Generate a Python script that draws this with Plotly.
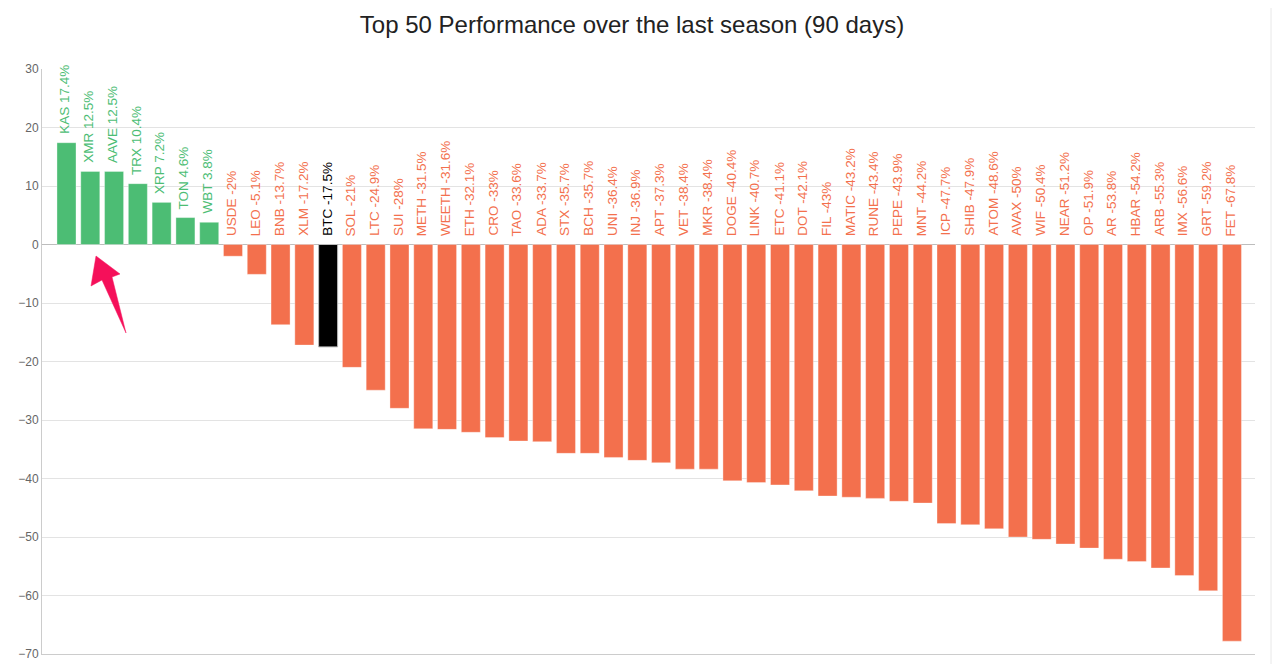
import plotly.graph_objects as go

names = ["KAS", "XMR", "AAVE", "TRX", "XRP", "TON", "WBT", "USDE", "LEO", "BNB",
         "XLM", "BTC", "SOL", "LTC", "SUI", "METH", "WEETH", "ETH", "CRO", "TAO",
         "ADA", "STX", "BCH", "UNI", "INJ", "APT", "VET", "MKR", "DOGE", "LINK",
         "ETC", "DOT", "FIL", "MATIC", "RUNE", "PEPE", "MNT", "ICP", "SHIB", "ATOM",
         "AVAX", "WIF", "NEAR", "OP", "AR", "HBAR", "ARB", "IMX", "GRT", "FET"]
values = [17.4, 12.5, 12.5, 10.4, 7.2, 4.6, 3.8, -2, -5.1, -13.7,
          -17.2, -17.5, -21, -24.9, -28, -31.5, -31.6, -32.1, -33, -33.6,
          -33.7, -35.7, -35.7, -36.4, -36.9, -37.3, -38.4, -38.4, -40.4, -40.7,
          -41.1, -42.1, -43, -43.2, -43.4, -43.9, -44.2, -47.7, -47.9, -48.6,
          -50, -50.4, -51.2, -51.9, -53.8, -54.2, -55.3, -56.6, -59.2, -67.8]
y_ticks = [30, 20, 10, 0, -10, -20, -30, -40, -50, -60, -70]

GREEN = "#4cbd74"
ORANGE = "#f3704d"
BLACK = "#000000"

W, H = 1283, 672
PAD = 8  # отступ body у страницы
L, R, T, B = 42, 1255, 69, 654


def colour(name, value):
    if name == "BTC":
        return BLACK
    return GREEN if value > 0 else ORANGE


def px(x):
    return (x - L) / (R - L)


def py(y):
    return (B - y) / (B - T)


colours = [colour(n, v) for n, v in zip(names, values)]

fig = go.Figure(go.Bar(
    x=names,
    y=values,
    marker=dict(color=colours,
                line=dict(color=["#bbbbbb" if n == "BTC" else "rgba(255,255,255,0.35)" for n in names], width=1)),
    hoverinfo="x+y",
))

# Подписи над нулём или над столбцом
for n, v, c in zip(names, values, colours):
    fig.add_annotation(
        x=n, y=max(v, 0), yshift=6.5, xshift=-1.5,
        text=f"{n} {v:g}%",
        textangle=-90, showarrow=False,
        xanchor="center", yanchor="bottom",
        font=dict(size=13.5, color=c),
    )

# Стрелка
arrow = [(96, 256), (120, 274), (112, 277), (126, 333), (102, 280), (91, 286)]
path = "M " + " L ".join(f"{px(x):.5f},{py(y):.5f}" for x, y in arrow) + " Z"
fig.add_shape(type="path", path=path, xref="paper", yref="paper",
              fillcolor="#f5105a", line=dict(color="#f5105a", width=0.5), layer="above")

# Край страницы справа
fig.add_shape(type="line", xref="paper", yref="paper",
              x0=px(1271), x1=px(1271), y0=py(0), y1=py(H),
              line=dict(color="#e8e8e8", width=1))

fig.update_layout(
    width=W - 2 * PAD,
    height=H - 2 * PAD,
    margin=dict(l=L - PAD, r=W - PAD - R, t=T - PAD, b=H - PAD - B, pad=0),
    paper_bgcolor="white",
    plot_bgcolor="white",
    font=dict(family="Liberation Sans, Arial, sans-serif"),
    showlegend=False,
    bargap=0.2,
    title=dict(text="Top 50 Performance over the last season (90 days)",
               x=(632 - PAD) / (W - 2 * PAD), xanchor="center",
               y=1 - (25 - PAD) / (H - 2 * PAD), yanchor="middle",
               font=dict(size=24, color="#222222")),
    xaxis=dict(type="category", range=[-1.03, 49.97], showticklabels=False,
               showgrid=False, ticks="", zeroline=False, automargin=False,
               showline=True, linecolor="#cccccc", linewidth=1),
    yaxis=dict(range=[-70, 30], tickvals=y_ticks, showgrid=True, gridcolor="#e3e3e3",
               gridwidth=1, zeroline=True, zerolinecolor="#bdbdbd", zerolinewidth=1,
               automargin=False,
               showline=True, linecolor="#cccccc", linewidth=1, ticks="",
               tickfont=dict(size=12, color="#666666")),
)

fig.write_html("out.html")
